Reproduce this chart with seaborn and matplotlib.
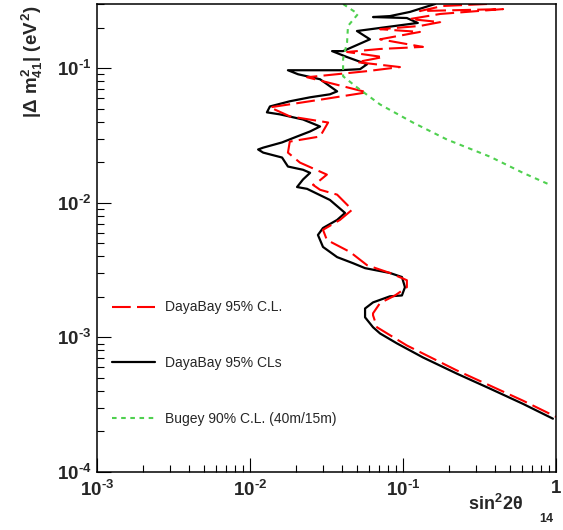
import numpy as np
import pandas as pd
import matplotlib
matplotlib.use("Agg")
import matplotlib.pyplot as plt
from matplotlib.ticker import LogLocator, NullFormatter
import seaborn as sns

# DayaBay 95% C.L. (red dashed)
cl_sin2 = [0.354, 0.182, 0.129, 0.451, 0.175, 0.111, 0.175, 0.129, 0.0708, 0.129,
           0.0708, 0.135, 0.0708, 0.0431, 0.074, 0.050, 0.0955, 0.0582, 0.0236, 0.0582,
           0.030, 0.0135, 0.0182, 0.0324, 0.0287, 0.0182, 0.0177, 0.0212, 0.0318, 0.0274,
           0.0258, 0.0287, 0.0371, 0.0465, 0.0387, 0.030, 0.0318, 0.0451, 0.0582, 0.0822,
           0.106, 0.106, 0.0887, 0.0708, 0.0637, 0.0637, 0.0676, 0.106, 0.225, 0.608, 1.0]
cl_dm2 = [0.3, 0.29, 0.266, 0.275, 0.253, 0.232, 0.22, 0.206, 0.195, 0.186,
          0.164, 0.144, 0.139, 0.132, 0.121, 0.111, 0.102, 0.0951, 0.0857, 0.0662,
          0.0588, 0.0512, 0.0439, 0.0395, 0.0311, 0.0285, 0.0236, 0.0199, 0.0162, 0.0141,
          0.0136, 0.0125, 0.0115, 0.00888, 0.00746, 0.0063, 0.0053, 0.00431, 0.00344, 0.00301,
          0.00266, 0.00236, 0.00205, 0.0018, 0.00151, 0.00146, 0.00119, 0.000871, 0.000568,
          0.000339, 0.000257]

# DayaBay 95% CLs (black solid)
cls_sin2 = [0.162, 0.111, 0.0822, 0.0637, 0.106, 0.125, 0.050, 0.0608, 0.0406, 0.0344,
            0.0431, 0.0582, 0.0524, 0.0387, 0.0177, 0.0206, 0.0287, 0.0371, 0.0333, 0.0247,
            0.0182, 0.0135, 0.0129, 0.0157, 0.0222, 0.0287, 0.0247, 0.0203, 0.0162, 0.0122,
            0.0113, 0.0122, 0.0162, 0.0177, 0.0222, 0.0247, 0.0222, 0.0203, 0.0236, 0.0333,
            0.0418, 0.0371, 0.030, 0.0278, 0.030, 0.0371, 0.0471, 0.0565, 0.0822, 0.0984,
            0.103, 0.0984, 0.0822, 0.0637, 0.0565, 0.0565, 0.0637, 0.0708, 0.0914, 0.135,
            0.225, 0.371, 0.608, 0.955]
cls_dm2 = [0.3, 0.262, 0.244, 0.240, 0.236, 0.217, 0.189, 0.164, 0.134, 0.134,
           0.121, 0.107, 0.0984, 0.0966, 0.0966, 0.0902, 0.0828, 0.0673, 0.0640, 0.0608,
           0.0568, 0.0520, 0.0470, 0.0454, 0.0416, 0.0369, 0.0339, 0.0311, 0.0281, 0.0257,
           0.0249, 0.0236, 0.0217, 0.0186, 0.0176, 0.0167, 0.0149, 0.0131, 0.0127, 0.0105,
           0.00841, 0.00746, 0.0065, 0.00577, 0.0047, 0.00395, 0.00356, 0.00327, 0.00301, 0.00281,
           0.00236, 0.00205, 0.00202, 0.00182, 0.00164, 0.00141, 0.00119, 0.00107, 0.000902, 0.00071,
           0.000538, 0.000416, 0.000321, 0.000249]

# Bugey 90% C.L. (green dotted)
bugey_sin2 = [0.0406, 0.0508, 0.0437, 0.0431, 0.0406, 0.0406, 0.050, 0.0708, 0.116,
              0.194, 0.371, 0.608, 0.914]
bugey_dm2 = [0.3, 0.253, 0.206, 0.156, 0.117, 0.0871, 0.0721, 0.0538, 0.0395,
             0.0295, 0.0220, 0.0167, 0.0136]

labels = ["DayaBay 95% C.L.", "DayaBay 95% CLs", "Bugey 90% C.L. (40m/15m)"]

x_ticks = [1e-3, 1e-2, 1e-1, 1]
x_tick_labels = [r"$10^{\text{-}3}$", r"$10^{\text{-}2}$", r"$10^{\text{-}1}$", r"$1$"]
y_ticks = [1e-4, 1e-3, 1e-2, 1e-1]
y_tick_labels = [r"$10^{\text{-}4}$", r"$10^{\text{-}3}$", r"$10^{\text{-}2}$", r"$10^{\text{-}1}$"]

sns.set_style("white")
plt.rcParams["font.family"] = ["Liberation Sans", "DejaVu Sans"]
# all math text in this chart is bold (ROOT font 62)
plt.rcParams["mathtext.fontset"] = "custom"
plt.rcParams["mathtext.rm"] = "Liberation Sans:bold"
plt.rcParams["mathtext.bf"] = "Liberation Sans:bold"
plt.rcParams["mathtext.it"] = "Liberation Sans:bold"

fig = plt.figure(figsize=(5.63, 5.30), dpi=100)
ax = fig.add_axes([97 / 563, 1 - 472 / 530, (556 - 97) / 563, (472 - 4) / 530])
ax.set_xscale("log")
ax.set_yscale("log")

df_cls = pd.DataFrame({"sin2": cls_sin2, "dm2": cls_dm2})
df_cl = pd.DataFrame({"sin2": cl_sin2, "dm2": cl_dm2})
df_bugey = pd.DataFrame({"sin2": bugey_sin2, "dm2": bugey_dm2})

sns.lineplot(data=df_cls, x="sin2", y="dm2", sort=False, estimator=None,
             color="black", linewidth=1.6, ax=ax)
h_cls = ax.lines[-1]
sns.lineplot(data=df_cl, x="sin2", y="dm2", sort=False, estimator=None,
             color="red", linewidth=1.5, linestyle=(0, (9, 3)), ax=ax)
h_cl = ax.lines[-1]
sns.lineplot(data=df_bugey, x="sin2", y="dm2", sort=False, estimator=None,
             color="#4fd04f", linewidth=1.5, linestyle=(0, (2.2, 2.2)), ax=ax)
h_bugey = ax.lines[-1]

ax.set_xticks(x_ticks, x_tick_labels)
ax.set_yticks(y_ticks, y_tick_labels)
ax.xaxis.set_minor_locator(LogLocator(base=10, subs=np.arange(2, 10)))
ax.yaxis.set_minor_locator(LogLocator(base=10, subs=np.arange(2, 10)))
ax.xaxis.set_minor_formatter(NullFormatter())
ax.yaxis.set_minor_formatter(NullFormatter())
ax.set_xlim(1e-3, 1)
ax.set_ylim(1e-4, 0.3)
ax.set_xlabel("")
ax.set_ylabel("")

ax.tick_params(which="major", direction="in", length=10, width=0.8, color="black",
               top=False, right=False, bottom=True, left=True, labelsize=13.5)
ax.tick_params(axis="x", which="major", pad=6)
ax.tick_params(axis="y", which="major", pad=4)
ax.tick_params(which="minor", direction="in", length=5, width=0.8, color="black",
               top=False, right=False, bottom=True, left=True)
for s in ax.spines.values():
    s.set_color("black")
    s.set_linewidth(1.1)

ax.legend([h_cl, h_cls, h_bugey], labels, loc="upper left",
          bbox_to_anchor=(0.033, 0.3665), frameon=False, fontsize=10,
          handlelength=3.1, handletextpad=0.7, labelspacing=3.0,
          borderpad=0, borderaxespad=0)

# axis titles (ROOT style placement)
fig.text(32 / 563, 1 - 6 / 530, r"$|\Delta\ m^{2}_{41}|\ (eV^{2})$",
         rotation=90, ha="center", va="top", fontsize=13.5)
fig.text(523 / 563, 1 - 510 / 530, r"$sin^{2}2\theta$",
         ha="right", va="baseline", fontsize=13)
fig.text(546 / 563, 5 / 530, "14", ha="center", va="bottom",
         fontsize=9, fontweight="bold")

fig.savefig("out.png", dpi=100)
